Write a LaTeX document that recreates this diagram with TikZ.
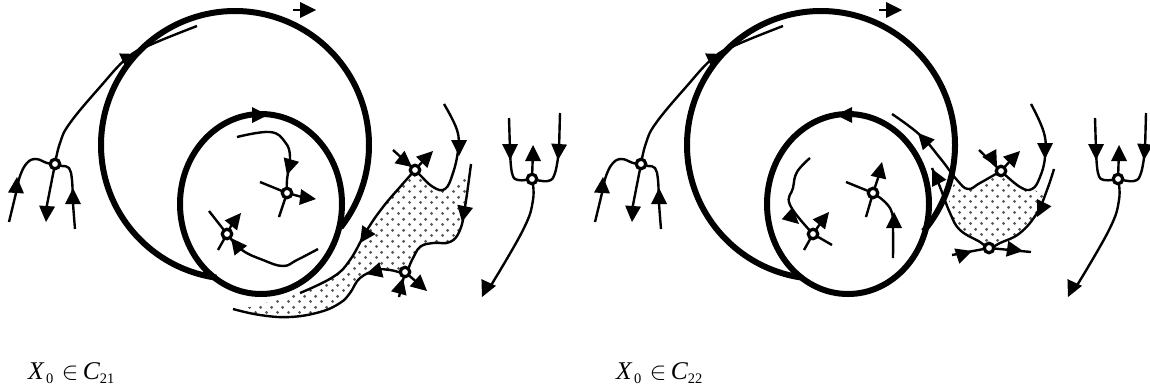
\documentclass[tikz,border=0pt]{standalone}
\usepackage{fontspec}
\setmainfont{Liberation Serif}
\usetikzlibrary{calc,patterns}
\pgfdeclarepatternformonly{stip}{\pgfpointorigin}{\pgfqpoint{11pt}{11pt}}{\pgfqpoint{11pt}{11pt}}{%
  \pgfpathcircle{\pgfqpoint{2.75pt}{2.75pt}}{1.7pt}\pgfpathcircle{\pgfqpoint{8.25pt}{8.25pt}}{1.7pt}\pgfusepath{fill}}
\newcommand{\tri}[2]{\coordinate (tT) at (#1); \coordinate (tB) at ($(tT)!16pt!(#2)$); \fill (tT) -- ($(tB)!8pt!90:(tT)$) -- ($(tB)!8pt!-90:(tT)$) -- cycle;}
\newcommand{\smo}[1]{\draw[curve] plot[smooth,tension=0.7] coordinates {#1};}
\tikzset{
  curve/.style={line width=2.4pt,line cap=butt},
  cyc/.style={line width=6pt},
  fp/.style={circle,draw,fill=white,line width=3.2pt,minimum size=9.5pt,inner sep=0pt},
  stipple/.style={pattern=stip,pattern color=black!65},
  lab/.style={anchor=base west,inner sep=0pt,font=\fontsize{25.5}{26}\selectfont}
}
\newcommand{\labl}[2]{{\itshape X}\raisebox{-4pt}{\fontsize{14.5}{15}\selectfont\,0}\,\,$\in$\,{\itshape C}\raisebox{-4pt}{\fontsize{14.5}{15}\selectfont #1#2}}
\begin{document}
\begin{tikzpicture}[x=1pt,y=-1pt]
\useasboundingbox (0,0) rectangle (1150,391);
% shaded regions
\path[stipple] plot[smooth,tension=0.7] coordinates {(415,170)(400,187)(383,207)(367,230)(350,260)(333,277)(300,293)(245,308)} -- plot[smooth,tension=0.7] coordinates {(245,310)(260,315)(290,317)(320,312)(340,303)(350,293)(360,278)(377,270)(390,270)(405,272)(412,260)(420,247)(433,243)(450,242)(460,230)(465,207)(469,170)} -- plot[smooth,tension=0.7] coordinates {(469,170)(445,189)(433,187)(420,175)(415,170)} -- cycle;
\path[stipple] plot[smooth,tension=0.7] coordinates {(1001,171)(995,175)(980,183)(968,189)(957,180)} -- plot[smooth,tension=0.7] coordinates {(950,190)(950,213)(960,230)(980,242)(989,248)(1000,243)(1020,233)(1037,213)(1045,195)} -- plot[smooth,tension=0.7] coordinates {(1032,189)(1020,187)(1007,176)(1001,171)} -- cycle;
% fixed points (named; white fill is redrawn on top at the end)
\foreach \n/\x/\y in {la/55/164,lb/287/193,lc/227/234,ld/415/170,le/405/272,lf/532/179,ra/641/164,rc/813/234,rd/873/193,re/1001/171,rf/989/248,rg/1118/179}
  \coordinate (\n) at (\x,\y);
% ---------- left panel
\draw[cyc] plot[domain=38:-262,samples=140,smooth] ({235+134*cos(\x)},{145+134*sin(\x)});
\draw[cyc] (261,204) ellipse [x radius=81,y radius=90];
\draw[curve] (293,10) -- (302,10); \tri{316,10}{302,10}
\tri{268,115}{252,115}
\smo{(la)(60,143)(70,123)(100,87)(127,58)(150,45)(197,26)}
\tri{137,54}{124,60}
\smo{(la)(47,163)(36,159)(27,163)(20,176)(16,193)(9,222)}
\tri{17,177}{16,193}
\draw[curve] (la) -- (46,210); \tri{46,222}{47,207}
\smo{(la)(62,166)(69,168)(72,180)(73,203)(75,229)}
\tri{73,188}{73,203}
% inner
\smo{(237,137)(270,132)(285,142)(290,157)(287,180)(lb)}
\tri{287,175}{291,161}
\draw[curve] (260,182) -- (lb) -- (279,217);
\draw[curve] (lb) -- (302,197); \tri{316,199}{300,197}
\draw[curve] (209,211) -- (lc) -- (218,250);
\draw[curve] (lc) -- (233,222); \tri{241,213}{232,224}
\smo{(318,249)(297,260)(283,266)(263,260)(242,250)(lc)}
\tri{231,238}{238,247}
% spiral region boundaries
\smo{(ld)(400,187)(383,207)(367,230)(350,260)(333,277)(300,293)}
\tri{360,243}{368,231}
\smo{(233,309)(260,315)(290,317)(320,312)(340,303)(350,293)(360,278)(377,270)(390,270)(le)(412,260)(420,247)(433,243)(450,242)(460,230)(465,207)(471,164)}
\tri{462,222}{465,207}
\smo{(ld)(420,175)(433,187)(445,189)(453,173)(458,150)(457,130)(444,104)}
\tri{459,156}{459,143}
\draw[curve] (393,150) -- (ld); \tri{412,167}{402,159}
\draw[curve] (ld) -- (424,160); \tri{433,151}{422,162}
\tri{366,274}{381,270}
\draw[curve] (399,297) -- (le); \tri{403,278}{400,289}
\draw[curve] (le) -- (420,285); \tri{427,291}{418,283}
% fan
\draw[curve] (509,118) -- (510,150);
\smo{(510,150)(512,173)(518,180)(lf)}
\tri{510,160}{510,145}
\draw[curve] (560,113) -- (559,150);
\smo{(559,150)(555,173)(548,181)(lf)}
\tri{558,160}{559,145}
\draw[curve] (lf) -- (533,150); \tri{533,145}{533,160}
\smo{(lf)(533,200)(523,230)(490,287)}
\tri{482,297}{488,284}
% ---------- right panel
\draw[cyc] plot[domain=40:-261,samples=140,smooth] ({821+134*cos(\x)},{145+134*sin(\x)});
\draw[cyc] (848,204) ellipse [x radius=81,y radius=90];
\draw[curve] (879,10) -- (888,10); \tri{902,10}{888,10}
\tri{836,115}{852,115}
\smo{(ra)(646,143)(656,123)(686,87)(713,58)(736,45)(783,26)}
\tri{723,54}{710,60}
\smo{(ra)(633,163)(622,159)(613,163)(606,176)(602,193)(595,222)}
\tri{603,177}{602,193}
\draw[curve] (ra) -- (632,210); \tri{632,222}{633,207}
\smo{(ra)(648,166)(655,168)(658,180)(659,203)(661,229)}
\tri{659,188}{659,203}
% inner
\smo{(810,158)(797,172)(793,188)(790,205)(rc)}
\tri{799,224}{789,215}
\draw[curve] (832,245) -- (rc) -- (804,250);
\draw[curve] (rc) -- (822,221); \tri{829,212}{820,223}
\draw[curve] (846,182) -- (rd) -- (866,217);
\draw[curve] (rd) -- (879,175); \tri{882,162}{879,175}
\smo{(rd)(885,202)(892,213)(893,230)(893,258)}
\tri{894,212}{894,227}
% spiral
\smo{(re)(980,183)(968,189)(957,180)(940,158)(920,135)(892,114)}
\tri{918,133}{928,144}
\smo{(re)(1020,187)(1032,189)(1040,177)(1045,157)(1044,133)(1031,104)}
\tri{1045,159}{1045,143}
\draw[curve] (979,150) -- (re); \tri{997,167}{992,158}
\draw[curve] (re) -- (1011,160); \tri{1020,151}{1009,162}
\smo{(932,168)(940,187)(950,213)(960,230)(980,242)(rf)(1000,243)(1020,233)(1037,213)(1047,190)(1054,169)}
\tri{932,169}{937,179}
\tri{1037,217}{1043,205}
\draw[curve] (952,255) -- (rf) -- (1031,252);
\tri{972,251}{957,256}
\tri{1023,251}{1009,249}
% fan
\draw[curve] (1095,118) -- (1096,150);
\smo{(1096,150)(1098,173)(1104,180)(rg)}
\tri{1096,160}{1096,145}
\draw[curve] (1146,113) -- (1145,150);
\smo{(1145,150)(1141,173)(1134,181)(rg)}
\tri{1144,160}{1145,145}
\draw[curve] (rg) -- (1119,150); \tri{1119,145}{1119,160}
\smo{(rg)(1119,200)(1109,230)(1076,287)}
\tri{1068,297}{1074,284}
% node markers
\foreach \n in {la,lb,lc,ld,le,lf,ra,rc,rd,re,rf,rg}
  \node[fp] (m\n) at (\n) {};
% labels
\node[lab] (t1) at (28,379) {\labl{2}{1}};
\node[lab] (t2) at (616,379) {\labl{2}{2}};
\end{tikzpicture}
\end{document}
